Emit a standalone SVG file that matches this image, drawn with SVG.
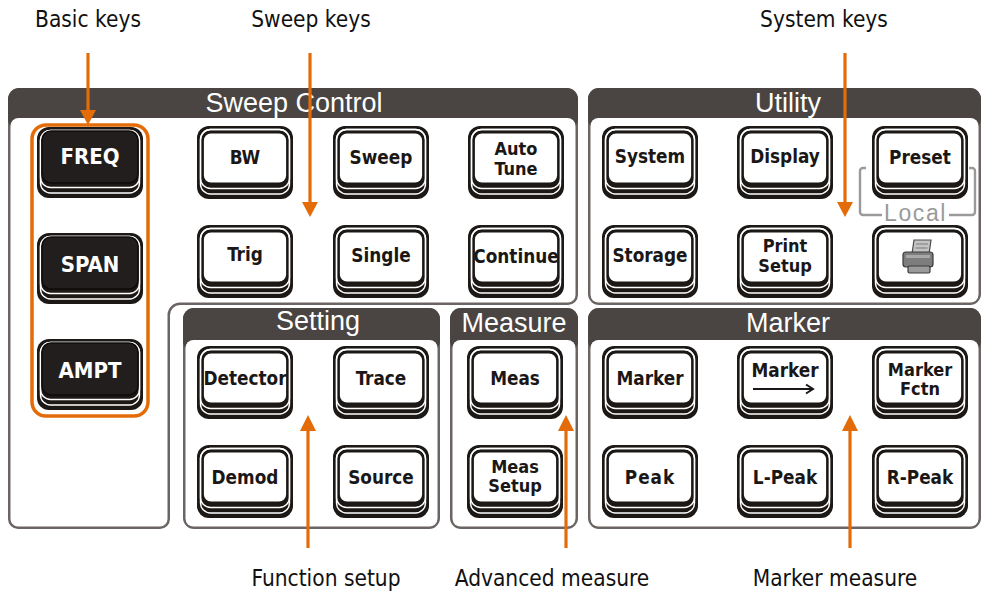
<svg xmlns="http://www.w3.org/2000/svg" xmlns:xlink="http://www.w3.org/1999/xlink" width="982" height="592" viewBox="0 0 982 592">
<style>
.pb{fill:#6a6563}
.ph{fill:#4a4542}
.pw{fill:#ffffff}
.ht{font-family:"Liberation Sans",Arial,sans-serif;font-size:27px;fill:#ffffff;text-anchor:middle}
.k{font-family:"DejaVu Sans Condensed","DejaVu Sans",sans-serif;font-stretch:condensed;font-weight:bold;font-size:18.8px;fill:#1a1716;text-anchor:middle}
.k2{font-size:18px}
.kb{font-family:"DejaVu Sans Condensed","DejaVu Sans",sans-serif;font-stretch:condensed;font-weight:bold;font-size:22px;fill:#ffffff;text-anchor:middle}
.ann{font-family:"DejaVu Sans Condensed","DejaVu Sans",sans-serif;font-stretch:condensed;font-size:22.5px;fill:#111111;text-anchor:middle}
.arr{stroke:#E36C09;stroke-width:3.2;fill:none}
.ah{fill:#E36C09}
.loc{stroke:#9a9a9a;stroke-width:2.4;fill:none}
</style>
<defs>
<g id="wkey">
<rect x="0" y="0" width="96" height="73" rx="12" fill="#1c1816"/>
<rect x="3.5" y="3.5" width="89" height="64.5" rx="10" fill="none" stroke="#ffffff" stroke-width="1.4"/>
<rect x="3.5" y="3.5" width="89" height="59" rx="10" fill="none" stroke="#ffffff" stroke-width="1.4"/>
<rect x="6" y="6.5" width="84" height="51" rx="8" fill="#ffffff" stroke="#1c1816" stroke-width="1.8"/>
</g>
<g id="bkey">
<rect x="0" y="0" width="106" height="71" rx="12" fill="#1c1816"/>
<rect x="3.5" y="3.5" width="99" height="62.5" rx="10" fill="none" stroke="#ffffff" stroke-width="1.4"/>
<rect x="3.5" y="3.5" width="99" height="57" rx="10" fill="none" stroke="#ffffff" stroke-width="1.4"/>
<rect x="5" y="4" width="96" height="52" rx="9" fill="#221e1d" stroke="#0e0c0b" stroke-width="1.6"/>
</g>
</defs>

<!-- Panels -->
<g id="panel-sweep-control">
<path class="pb" d="M8 100 A12 12 0 0 1 20 88 H566 A12 12 0 0 1 578 100 V295 A10 10 0 0 1 568 305 H180 A10 10 0 0 0 170 315 V519 A10 10 0 0 1 160 529 H18 A10 10 0 0 1 8 519 Z"/>
<rect class="ph" x="8" y="88" width="570" height="42" rx="11"/>
<path class="pw" d="M10.5 126 A8 8 0 0 1 18.5 118 H567.5 A8 8 0 0 1 575.5 126 V295 A7.5 7.5 0 0 1 568 302.5 H180 A12.5 12.5 0 0 0 167.5 315 V519 A7.5 7.5 0 0 1 160 526.5 H18 A7.5 7.5 0 0 1 10.5 519 Z"/>
<text class="ht" x="294" y="112">Sweep Control</text>
</g>
<g id="panel-utility">
<rect class="pb" x="588" y="88" width="393" height="217" rx="11"/>
<rect class="ph" x="588" y="88" width="393" height="42" rx="11"/>
<rect class="pw" x="590.5" y="118" width="388" height="184.5" rx="8"/>
<text class="ht" x="788" y="112">Utility</text>
</g>
<g id="panel-setting">
<rect class="pb" x="183" y="308" width="257" height="221" rx="11"/>
<rect class="ph" x="183" y="308" width="257" height="44" rx="11"/>
<rect class="pw" x="185.5" y="340" width="252" height="186.5" rx="8"/>
<text class="ht" x="318" y="330">Setting</text>
</g>
<g id="panel-measure">
<rect class="pb" x="450" y="308" width="128" height="221" rx="11"/>
<rect class="ph" x="450" y="308" width="128" height="44" rx="11"/>
<rect class="pw" x="452.5" y="340" width="123" height="186.5" rx="8"/>
<text class="ht" x="514" y="332">Measure</text>
</g>
<g id="panel-marker">
<rect class="pb" x="588" y="308" width="393" height="221" rx="11"/>
<rect class="ph" x="588" y="308" width="393" height="44" rx="11"/>
<rect class="pw" x="590.5" y="340" width="388" height="186.5" rx="8"/>
<text class="ht" x="788" y="332">Marker</text>
</g>

<!-- Basic keys -->
<g id="key-freq" transform="translate(37,127)"><use xlink:href="#bkey"/><text class="kb" x="53" y="37">FREQ</text></g>
<g id="key-span" transform="translate(37,233)"><use xlink:href="#bkey"/><text class="kb" x="53" y="39">SPAN</text></g>
<g id="key-ampt" transform="translate(37,339)"><use xlink:href="#bkey"/><text class="kb" x="53" y="39">AMPT</text></g>
<rect id="basic-frame" x="32" y="125" width="116" height="291" rx="14" fill="none" stroke="#E36C09" stroke-width="3.5"/>

<!-- Sweep Control keys -->
<g id="key-bw" transform="translate(197,126)"><use xlink:href="#wkey"/><text class="k" x="48" y="38">BW</text></g>
<g id="key-sweep" transform="translate(333,126)"><use xlink:href="#wkey"/><text class="k" x="48" y="38">Sweep</text></g>
<g id="key-autotune" transform="translate(468,126)"><use xlink:href="#wkey"/><text class="k k2" x="48" y="29">Auto</text><text class="k k2" x="48" y="49">Tune</text></g>
<g id="key-trig" transform="translate(197,225)"><use xlink:href="#wkey"/><text class="k" x="48" y="36">Trig</text></g>
<g id="key-single" transform="translate(333,225)"><use xlink:href="#wkey"/><text class="k" x="48" y="37">Single</text></g>
<g id="key-continue" transform="translate(468,225)"><use xlink:href="#wkey"/><text class="k" x="48" y="38">Continue</text></g>

<!-- Utility keys -->
<g id="key-system" transform="translate(602,126)"><use xlink:href="#wkey"/><text class="k" x="48" y="37">System</text></g>
<g id="key-display" transform="translate(737,126)"><use xlink:href="#wkey"/><text class="k" x="48" y="37">Display</text></g>
<g id="key-preset" transform="translate(872,126)"><use xlink:href="#wkey"/><text class="k" x="48" y="38">Preset</text></g>
<g id="key-storage" transform="translate(602,225)"><use xlink:href="#wkey"/><text class="k" x="48" y="37">Storage</text></g>
<g id="key-printsetup" transform="translate(737,225)"><use xlink:href="#wkey"/><text class="k k2" x="48" y="27">Print</text><text class="k k2" x="48" y="47">Setup</text></g>
<g id="key-print" transform="translate(872,225)"><use xlink:href="#wkey"/>
<polygon points="42,15 59,15 57,29 40,29" fill="#c4c4c4" stroke="#4a4a4a" stroke-width="1.2"/>
<line x1="44" y1="19" x2="56" y2="19" stroke="#7a7a7a" stroke-width="1"/>
<line x1="43.5" y1="23" x2="55.5" y2="23" stroke="#7a7a7a" stroke-width="1"/>
<rect x="31" y="27" width="30" height="15" rx="3" fill="#7d7d7d" stroke="#3a3a3a" stroke-width="1.2"/>
<rect x="34" y="30" width="24" height="3" fill="#a8a8a8"/>
<rect x="36" y="41" width="22" height="7" rx="1.5" fill="#9a9a9a" stroke="#3a3a3a" stroke-width="1.2"/>
</g>
<g id="local-label">
<path class="loc" d="M866 168 H863 A3 3 0 0 0 860 171 V212 A3 3 0 0 0 863 215 H882"/>
<path class="loc" d="M949 215 H972 A3 3 0 0 0 975 212 V171 A3 3 0 0 0 972 168 H969"/>
<text x="915.5" y="221" font-family="Liberation Sans,Arial,sans-serif" font-size="23" letter-spacing="1.6" fill="#9a9a9a" text-anchor="middle">Local</text>
</g>

<!-- Setting keys -->
<g id="key-detector" transform="translate(197,346)"><use xlink:href="#wkey"/><text class="k" x="48" y="39">Detector</text></g>
<g id="key-trace" transform="translate(333,346)"><use xlink:href="#wkey"/><text class="k" x="48" y="39">Trace</text></g>
<g id="key-demod" transform="translate(197,445)"><use xlink:href="#wkey"/><text class="k" x="48" y="39">Demod</text></g>
<g id="key-source" transform="translate(333,445)"><use xlink:href="#wkey"/><text class="k" x="48" y="39">Source</text></g>

<!-- Measure keys -->
<g id="key-meas" transform="translate(467,346)"><use xlink:href="#wkey"/><text class="k" x="48" y="39">Meas</text></g>
<g id="key-meassetup" transform="translate(467,445)"><use xlink:href="#wkey"/><text class="k k2" x="48" y="28">Meas</text><text class="k k2" x="48" y="47">Setup</text></g>

<!-- Marker keys -->
<g id="key-marker" transform="translate(602,346)"><use xlink:href="#wkey"/><text class="k" x="48" y="39">Marker</text></g>
<g id="key-markerto" transform="translate(737,346)"><use xlink:href="#wkey"/><text class="k" x="48" y="31">Marker</text>
<line x1="16" y1="43" x2="75" y2="43" stroke="#1a1716" stroke-width="2"/>
<polyline points="69,38.5 76,43 69,47.5" fill="none" stroke="#1a1716" stroke-width="2"/>
</g>
<g id="key-markerfctn" transform="translate(872,346)"><use xlink:href="#wkey"/><text class="k k2" x="48" y="30">Marker</text><text class="k k2" x="48" y="49">Fctn</text></g>
<g id="key-peak" transform="translate(602,445)"><use xlink:href="#wkey"/><text class="k" x="48" y="39" letter-spacing="1">Peak</text></g>
<g id="key-lpeak" transform="translate(737,445)"><use xlink:href="#wkey"/><text class="k" x="48" y="39">L-Peak</text></g>
<g id="key-rpeak" transform="translate(872,445)"><use xlink:href="#wkey"/><text class="k" x="48" y="39">R-Peak</text></g>

<!-- Connectors -->
<g id="connectors">
<line class="arr" x1="88" y1="53" x2="88" y2="112"/>
<polygon class="ah" points="80,110 96,110 88,125"/>
<line class="arr" x1="310" y1="53" x2="310" y2="204"/>
<polygon class="ah" points="302,202 318,202 310,217"/>
<line class="arr" x1="845" y1="53" x2="845" y2="204"/>
<polygon class="ah" points="837,202 853,202 845,217"/>
<line class="arr" x1="308" y1="548" x2="308" y2="429"/>
<polygon class="ah" points="300,431 316,431 308,415"/>
<line class="arr" x1="566" y1="548" x2="566" y2="429"/>
<polygon class="ah" points="558,431 574,431 566,415"/>
<line class="arr" x1="850" y1="548" x2="850" y2="429"/>
<polygon class="ah" points="842,431 858,431 850,415"/>
</g>

<!-- Annotations -->
<g id="labels">
<text class="ann" x="88" y="27">Basic keys</text>
<text class="ann" x="311" y="27">Sweep keys</text>
<text class="ann" x="824" y="27">System keys</text>
<text class="ann" x="326" y="586">Function setup</text>
<text class="ann" x="552" y="586">Advanced measure</text>
<text class="ann" x="835" y="586">Marker measure</text>
</g>
</svg>
